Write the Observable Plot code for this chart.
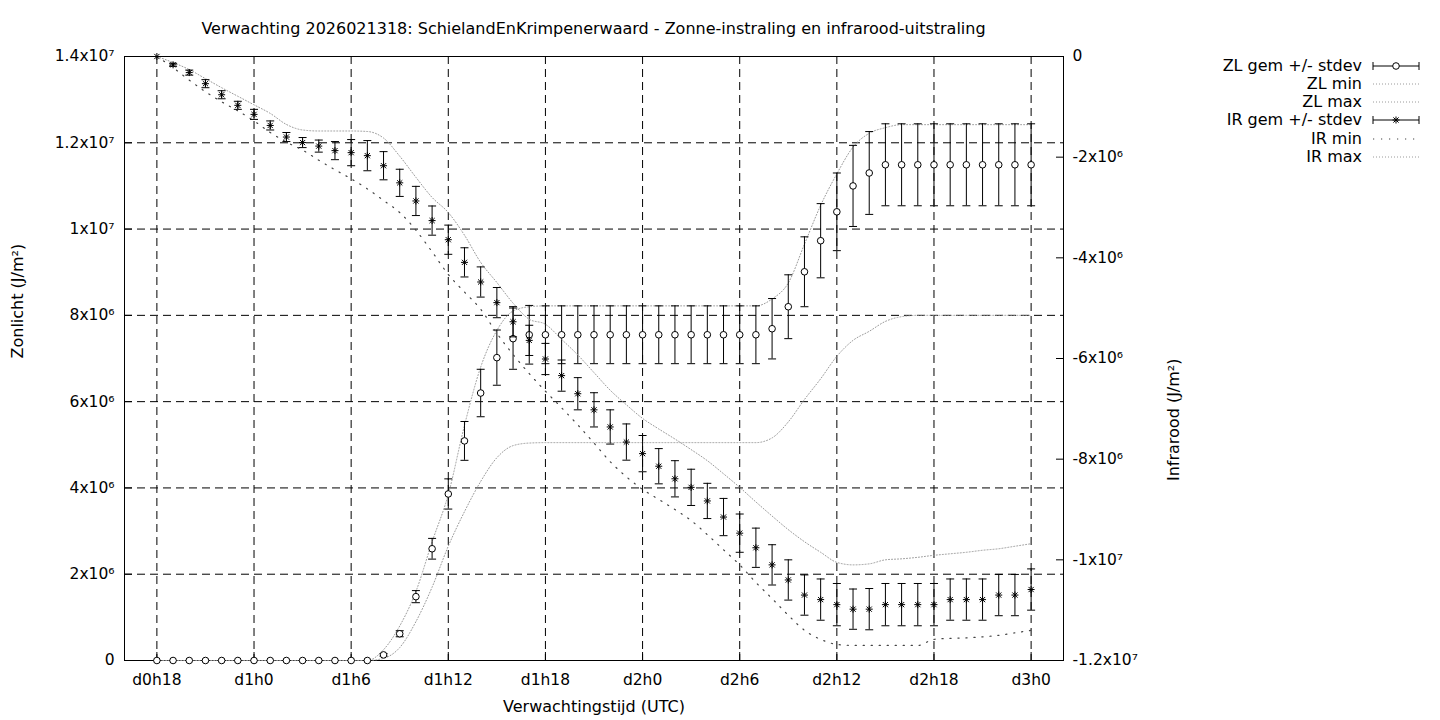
<!DOCTYPE html>
<html>
<head>
<meta charset="utf-8">
<script src="https://cdn.jsdelivr.net/npm/d3@7"></script>
<script src="https://cdn.jsdelivr.net/npm/@observablehq/plot@0.6"></script>
<style>
  body { margin: 0; background: #fff; font-family: "DejaVu Sans", sans-serif; }
  #wrap { position: relative; width: 1440px; height: 720px; overflow: hidden; }
  #title { position: absolute; left: 124px; width: 939px; top: 20px; line-height: 18px; text-align: center; font-size: 16px; color: #000; white-space: nowrap; }
  #charts { position: absolute; top: 40px; left: 0; width: 1440px; height: 680px; }
  #charts > svg { position: absolute; top: 0; left: 0; }
  .lg-text { position: absolute; left: 1000px; width: 362px; text-align: right; font-size: 16px; line-height: 18px; height: 18px; white-space: nowrap; }
  .lg-svg { position: absolute; left: 1370px; }
</style>
</head>
<body>
<div id="wrap">
  <div id="title"></div>
  <div id="charts"></div>
</div>
<script>
// ---------------- data (hourly, forecast hours from d0h0) ----------------
const hours = [18,19,20,21,22,23,24,25,26,27,28,29,30,31,32,33,34,35,36,37,38,39,40,41,42,43,44,45,
  46,47,48,49,50,51,52,53,54,55,56,57,58,59,60,61,62,63,64,65,66,67,68,69,70,71,72];

// Zonlicht (J/m2), left axis
const zlMean = [0,0,0,0,0,0,0,0,0,0,0,0,0,0,
  0.13e6,0.62e6,1.48e6,2.59e6,3.86e6,5.09e6,6.20e6,7.02e6,7.46e6,7.55e6,
  7.55e6,7.55e6,7.55e6,7.55e6,7.55e6,7.55e6,7.55e6,7.55e6,7.55e6,7.55e6,7.55e6,7.55e6,7.55e6,7.55e6,
  7.69e6,8.20e6,9.01e6,9.73e6,10.40e6,11.00e6,11.30e6,
  11.49e6,11.49e6,11.49e6,11.49e6,11.49e6,11.49e6,11.49e6,11.49e6,11.49e6,11.49e6];
const zlStdev = [0,0,0,0,0,0,0,0,0,0,0,0,0,0,
  0.03e6,0.07e6,0.14e6,0.24e6,0.35e6,0.45e6,0.55e6,0.64e6,0.71e6,0.68e6,
  0.67e6,0.67e6,0.67e6,0.67e6,0.67e6,0.67e6,0.67e6,0.67e6,0.67e6,0.67e6,0.67e6,0.67e6,0.67e6,0.67e6,
  0.70e6,0.74e6,0.81e6,0.86e6,0.90e6,0.94e6,0.96e6,
  0.95e6,0.95e6,0.95e6,0.95e6,0.95e6,0.95e6,0.95e6,0.95e6,0.95e6,0.95e6];
const zlMin = [0,0,0,0,0,0,0,0,0,0,0,0,0,0,
  0.05e6,0.30e6,0.90e6,1.70e6,2.65e6,3.45e6,4.15e6,4.70e6,4.98e6,5.04e6,
  5.05e6,5.05e6,5.05e6,5.05e6,5.05e6,5.05e6,5.05e6,5.05e6,5.05e6,5.05e6,5.05e6,5.05e6,5.05e6,5.05e6,
  5.16e6,5.53e6,6.05e6,6.53e6,7.05e6,7.42e6,7.63e6,7.86e6,7.97e6,
  8.0e6,8.0e6,8.0e6,8.0e6,8.0e6,8.0e6,8.0e6,8.0e6];
const zlMax = [0,0,0,0,0,0,0,0,0,0,0,0,0,0,
  0.25e6,0.80e6,1.60e6,2.75e6,3.85e6,5.45e6,6.80e6,7.65e6,8.10e6,8.20e6,
  8.22e6,8.22e6,8.22e6,8.22e6,8.22e6,8.22e6,8.22e6,8.22e6,8.22e6,8.22e6,8.22e6,8.22e6,8.22e6,8.22e6,
  8.38e6,8.75e6,9.65e6,10.55e6,11.28e6,11.90e6,12.22e6,12.35e6,12.42e6,
  12.42e6,12.42e6,12.42e6,12.42e6,12.42e6,12.42e6,12.42e6,12.42e6];

// Infrarood (J/m2), right axis
const irMean = [0,-0.165e6,-0.32e6,-0.54e6,-0.76e6,-0.97e6,-1.15e6,-1.37e6,-1.60e6,-1.71e6,-1.78e6,-1.87e6,-1.91e6,-1.97e6,
  -2.17e6,-2.51e6,-2.87e6,-3.26e6,-3.64e6,-4.09e6,-4.48e6,-4.89e6,-5.27e6,-5.64e6,
  -6.01e6,-6.34e6,-6.70e6,-7.02e6,-7.36e6,-7.66e6,-7.89e6,-8.14e6,-8.39e6,-8.56e6,-8.83e6,-9.15e6,-9.47e6,-9.76e6,
  -10.10e6,-10.40e6,-10.70e6,-10.79e6,-10.89e6,-10.98e6,-10.98e6,
  -10.89e6,-10.89e6,-10.89e6,-10.89e6,-10.79e6,-10.79e6,-10.79e6,-10.70e6,-10.70e6,-10.59e6];
const irStdev = [0,0.03e6,0.05e6,0.08e6,0.08e6,0.08e6,0.10e6,0.09e6,0.09e6,0.10e6,0.12e6,0.18e6,0.26e6,0.30e6,
  0.28e6,0.27e6,0.29e6,0.29e6,0.29e6,0.29e6,0.30e6,0.30e6,0.30e6,0.30e6,
  0.31e6,0.31e6,0.32e6,0.34e6,0.34e6,0.36e6,0.36e6,0.35e6,0.36e6,0.36e6,0.35e6,0.37e6,0.38e6,0.39e6,
  0.40e6,0.40e6,0.40e6,0.41e6,0.42e6,0.40e6,0.41e6,
  0.42e6,0.42e6,0.42e6,0.42e6,0.41e6,0.41e6,0.41e6,0.41e6,0.41e6,0.41e6];
const irMin = [0,-0.22e6,-0.47e6,-0.70e6,-0.90e6,-1.08e6,-1.28e6,-1.51e6,-1.70e6,-1.86e6,-2.06e6,-2.25e6,-2.43e6,-2.63e6,
  -2.86e6,-3.10e6,-3.45e6,-3.88e6,-4.33e6,-4.68e6,-5.02e6,-5.50e6,-5.92e6,-6.30e6,
  -6.65e6,-6.98e6,-7.32e6,-7.68e6,-8.05e6,-8.35e6,-8.60e6,-8.80e6,-9.00e6,-9.22e6,-9.50e6,-9.80e6,-10.10e6,-10.45e6,
  -10.77e6,-11.10e6,-11.40e6,-11.58e6,-11.68e6,-11.70e6,-11.70e6,
  -11.70e6,-11.70e6,-11.70e6,-11.58e6,-11.56e6,-11.55e6,-11.53e6,-11.50e6,-11.45e6,-11.40e6];
const irMax = [0,-0.12e6,-0.26e6,-0.44e6,-0.62e6,-0.79e6,-0.96e6,-1.13e6,-1.35e6,-1.46e6,-1.48e6,-1.48e6,-1.48e6,-1.49e6,
  -1.62e6,-1.98e6,-2.40e6,-2.80e6,-3.10e6,-3.55e6,-4.09e6,-4.49e6,-4.90e6,-5.22e6,
  -5.32e6,-5.62e6,-5.93e6,-6.28e6,-6.63e6,-6.92e6,-7.19e6,-7.40e6,-7.60e6,-7.81e6,-8.03e6,-8.29e6,-8.56e6,-8.85e6,
  -9.13e6,-9.40e6,-9.64e6,-9.85e6,-10.05e6,-10.10e6,-10.08e6,
  -10.00e6,-9.98e6,-9.95e6,-9.91e6,-9.88e6,-9.85e6,-9.81e6,-9.78e6,-9.73e6,-9.68e6];

const xTicks = [18,24,30,36,42,48,54,60,66,72];
const zlTicks = [0,2e6,4e6,6e6,8e6,1e7,1.2e7,1.4e7];
const irTicks = [0,-2e6,-4e6,-6e6,-8e6,-1e7,-1.2e7];

const titleText = "Verwachting 2026021318: SchielandEnKrimpenerwaard - Zonne-instraling en infrarood-uitstraling";
const xLabel = "Verwachtingstijd (UTC)";
const zlLabel = "Zonlicht (J/m²)";
const irLabel = "Infrarood (J/m²)";
const legendLabels = ["ZL gem +/- stdev","ZL min","ZL max","IR gem +/- stdev","IR min","IR max"];

// ---------------- helpers ----------------
const table = hours.map((h,i) => ({
  h,
  zl: zlMean[i], zlLo: zlMean[i]-zlStdev[i], zlHi: zlMean[i]+zlStdev[i], zlMin: zlMin[i], zlMax: zlMax[i],
  ir: irMean[i], irLo: irMean[i]-irStdev[i], irHi: irMean[i]+irStdev[i], irMin: irMin[i], irMax: irMax[i]
}));

const SUP = {"0":"⁰","1":"¹","2":"²","3":"³","4":"⁴","5":"⁵","6":"⁶","7":"⁷","8":"⁸","9":"⁹","-":"⁻"};
function sci(v) {
  if (v === 0) return "0";
  const s = v < 0 ? "-" : "";
  const a = Math.abs(v);
  const e = Math.floor(Math.log10(a) + 1e-9);
  const m = +(a / Math.pow(10, e)).toFixed(1);
  return s + m + "x10" + String(e).split("").map(c => SUP[c]).join("");
}
const fmtHour = h => "d" + Math.floor(h / 24) + "h" + (h % 24);

const capSymbol = { draw(ctx) { ctx.moveTo(-4, 0); ctx.lineTo(4, 0); } };
const starSymbol = { draw(ctx) {
  const r = 3.5, d = 2.6;
  ctx.moveTo(-r, 0); ctx.lineTo(r, 0);
  ctx.moveTo(0, -r); ctx.lineTo(0, r);
  ctx.moveTo(-d, -d); ctx.lineTo(d, d);
  ctx.moveTo(-d, d); ctx.lineTo(d, -d);
} };

const W = 1440, H = 680, ML = 124, MR = 377, MT = 16, MB = 60;
const innerW = W - ML - MR;
const TICK_FS = 15.5, LABEL_FS = 16;
const dense = { stroke: "#9a9a9a", strokeWidth: 1, strokeDasharray: "1,2", curve: "monotone-x" };
const sparse = { stroke: "#444", strokeWidth: 1.2, strokeDasharray: "1.2,6.8", curve: "monotone-x" };
const common = {
  width: W, height: H, marginLeft: ML, marginRight: MR, marginTop: MT, marginBottom: MB,
  x: { domain: [16, 74], axis: null }
};

// ---------------- chart 1: Zonlicht (left axis) ----------------
const zlPlot = Plot.plot({
  ...common,
  style: { fontFamily: "DejaVu Sans", fontSize: TICK_FS + "px", background: "white", color: "black", overflow: "visible" },
  y: { domain: [0, 1.4e7], axis: null },
  marks: [
    Plot.gridX(xTicks, { stroke: "black", strokeOpacity: 1, strokeWidth: 1, strokeDasharray: "8,5" }),
    Plot.gridY(zlTicks, { stroke: "black", strokeOpacity: 1, strokeWidth: 1, strokeDasharray: "8,5" }),
    Plot.axisX(xTicks, { tickSize: 0, tickPadding: 13, tickFormat: fmtHour, label: null, fontSize: TICK_FS }),
    Plot.axisY(zlTicks, { anchor: "left", tickSize: 0, tickPadding: 10, tickFormat: sci, label: null, fontSize: TICK_FS }),
    Plot.tickY(zlTicks, { y: d => d, insetRight: innerW - 8, stroke: "black" }),
    Plot.tickX(xTicks, { x: d => d, insetTop: H - MT - MB - 8, stroke: "black" }),
    Plot.frame({ stroke: "black", strokeWidth: 1 }),
    Plot.line(table, { x: "h", y: "zlMin", ...dense }),
    Plot.line(table, { x: "h", y: "zlMax", ...dense }),
    Plot.ruleX(table, { x: "h", y1: "zlLo", y2: "zlHi", stroke: "black", strokeWidth: 1 }),
    Plot.dot(table, { x: "h", y: "zlLo", symbol: capSymbol, fill: "none", stroke: "black", strokeWidth: 1 }),
    Plot.dot(table, { x: "h", y: "zlHi", symbol: capSymbol, fill: "none", stroke: "black", strokeWidth: 1 }),
    Plot.dot(table, { x: "h", y: "zl", symbol: "circle", r: 3.3, fill: "white", stroke: "black", strokeWidth: 1 }),
    Plot.text([zlLabel], { frameAnchor: "left", rotate: -90, dx: -107, fontSize: LABEL_FS, fill: "black" }),
    Plot.text([xLabel], { frameAnchor: "bottom", dy: 51, fontSize: LABEL_FS, fill: "black" })
  ]
});

// ---------------- chart 2: Infrarood (right axis) ----------------
const irPlot = Plot.plot({
  ...common,
  style: { fontFamily: "DejaVu Sans", fontSize: TICK_FS + "px", background: "transparent", color: "black", overflow: "visible" },
  y: { domain: [-1.2e7, 0], axis: null },
  marks: [
    Plot.axisY(irTicks, { anchor: "right", tickSize: 0, tickPadding: 9, tickFormat: sci, label: null, fontSize: TICK_FS }),
    Plot.tickY(irTicks, { y: d => d, insetLeft: innerW - 7, stroke: "black" }),
    Plot.line(table, { x: "h", y: "irMin", ...sparse }),
    Plot.line(table, { x: "h", y: "irMax", ...dense }),
    Plot.ruleX(table, { x: "h", y1: "irLo", y2: "irHi", stroke: "black", strokeWidth: 1 }),
    Plot.dot(table, { x: "h", y: "irLo", symbol: capSymbol, fill: "none", stroke: "black", strokeWidth: 1 }),
    Plot.dot(table, { x: "h", y: "irHi", symbol: capSymbol, fill: "none", stroke: "black", strokeWidth: 1 }),
    Plot.dot(table, { x: "h", y: "ir", symbol: starSymbol, fill: "none", stroke: "black", strokeWidth: 1 }),
    Plot.text([irLabel], { frameAnchor: "right", rotate: -90, dx: 110, fontSize: LABEL_FS, fill: "black" })
  ]
});

const charts = document.getElementById("charts");
charts.appendChild(zlPlot);
charts.appendChild(irPlot);
document.getElementById("title").textContent = titleText;

// ---------------- legend (right of the chart) ----------------
const wrap = document.getElementById("wrap");
const rowY = [66, 84, 102, 120, 139, 157];
const kinds = ["zlbar", "dense", "dense", "irbar", "sparse", "dense"];
legendLabels.forEach((lab, i) => {
  const t = document.createElement("div");
  t.className = "lg-text";
  t.style.top = (rowY[i] - 9) + "px";
  t.textContent = lab;
  wrap.appendChild(t);
  const svg = d3.create("svg").attr("class", "lg-svg").attr("width", 54).attr("height", 18)
    .style("top", (rowY[i] - 9) + "px");
  const x0 = 3, x1 = 49, cy = 9, cx = (x0 + x1) / 2;
  const k = kinds[i];
  if (k === "zlbar" || k === "irbar") {
    svg.append("line").attr("x1", x0).attr("x2", x1).attr("y1", cy).attr("y2", cy).attr("stroke", "black");
    svg.append("line").attr("x1", x0).attr("x2", x0).attr("y1", cy - 4).attr("y2", cy + 4).attr("stroke", "black");
    svg.append("line").attr("x1", x1).attr("x2", x1).attr("y1", cy - 4).attr("y2", cy + 4).attr("stroke", "black");
    if (k === "zlbar") {
      svg.append("circle").attr("cx", cx).attr("cy", cy).attr("r", 3.3).attr("fill", "white").attr("stroke", "black");
    } else {
      svg.append("path").attr("transform", `translate(${cx},${cy})`)
        .attr("d", "M-3.5,0L3.5,0M0,-3.5L0,3.5M-2.6,-2.6L2.6,2.6M-2.6,2.6L2.6,-2.6")
        .attr("stroke", "black").attr("fill", "none");
    }
  } else {
    const st = k === "sparse" ? sparse : dense;
    svg.append("line").attr("x1", x0).attr("x2", x1).attr("y1", cy).attr("y2", cy)
      .attr("stroke", st.stroke).attr("stroke-width", st.strokeWidth).attr("stroke-dasharray", st.strokeDasharray);
  }
  wrap.appendChild(svg.node());
});
</script>
</body>
</html>
